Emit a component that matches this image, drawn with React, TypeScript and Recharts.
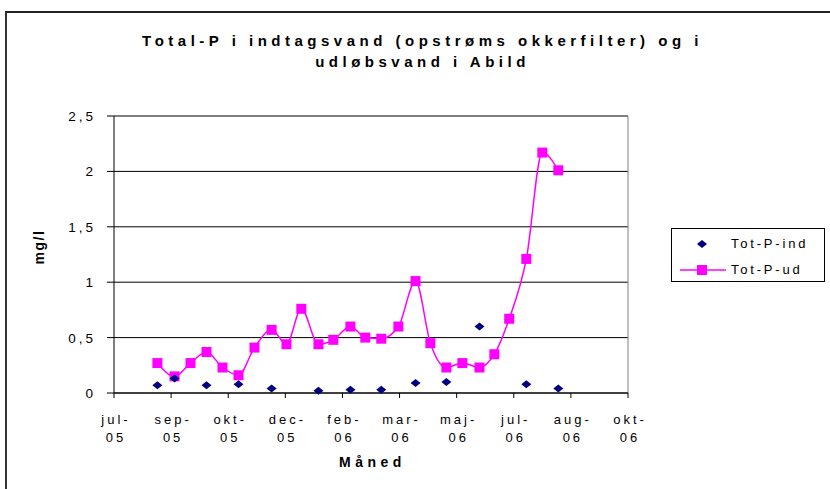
import { ComposedChart, Line, Scatter, XAxis, YAxis, CartesianGrid, ReferenceLine } from 'recharts';

const START = Date.UTC(2005, 6, 17); // first tick of the date axis (jul-05)

// Tot-P-ud (udløbsvand), mg/l
const udDates = [
  '2005-08-24', '2005-09-08', '2005-09-22', '2005-10-06', '2005-10-20', '2005-11-03',
  '2005-11-17', '2005-12-02', '2005-12-15', '2005-12-28', '2006-01-12', '2006-01-25',
  '2006-02-09', '2006-02-22', '2006-03-08', '2006-03-23', '2006-04-07', '2006-04-20',
  '2006-05-04', '2006-05-18', '2006-06-02', '2006-06-15', '2006-06-28', '2006-07-13',
  '2006-07-27', '2006-08-10',
];
const udValues = [
  0.27, 0.15, 0.27, 0.37, 0.23, 0.16, 0.41, 0.57, 0.44, 0.76, 0.44, 0.48,
  0.6, 0.5, 0.49, 0.6, 1.01, 0.45, 0.23, 0.27, 0.23, 0.35, 0.67, 1.21,
  2.17, 2.01,
];

// Tot-P-ind (indtagsvand), mg/l
const indDates = [
  '2005-08-24', '2005-09-08', '2005-10-06', '2005-11-03', '2005-12-02', '2006-01-12',
  '2006-02-09', '2006-03-08', '2006-04-07', '2006-05-04', '2006-06-02', '2006-07-13',
  '2006-08-10',
];
const indValues = [0.07, 0.13, 0.07, 0.08, 0.04, 0.02, 0.03, 0.03, 0.09, 0.1, 0.6, 0.08, 0.04];

const xTickDays = [0, 50, 100, 150, 200, 250, 300, 350, 400, 450];
const xTickLabels = ['jul-05', 'sep-05', 'okt-05', 'dec-05', 'feb-06', 'mar-06', 'maj-06', 'jul-06', 'aug-06', 'okt-06'];
const yTicks = [0, 0.5, 1, 1.5, 2, 2.5];

const FONT = "'Liberation Sans', Arial, sans-serif";

const dayOf = (iso: string) => Math.round((Date.parse(iso) - START) / 86400000);

const udData = udDates.map((d, i) => ({ day: dayOf(d), ud: udValues[i] }));
const indData = indDates.map((d, i) => ({ day: dayOf(d), ind: indValues[i] }));

function XTick({ x, y, index }: any) {
  const [month, year] = xTickLabels[index].split('-');
  return (
    <text x={x + 2} y={y} textAnchor="middle" fontFamily={FONT} fontSize={13} letterSpacing={3} fill="#000">
      <tspan x={x + 2} dy={24}>{month}-</tspan>
      <tspan x={x + 2} dy={18}>{year}</tspan>
    </text>
  );
}

function YTick({ x, y, payload }: any) {
  return (
    <text x={x - 9} y={y + 5} textAnchor="end" fontFamily={FONT} fontSize={13.5} letterSpacing={3} fill="#000">
      {String(payload.value).replace('.', ',')}
    </text>
  );
}

function Square({ cx, cy, payload }: any) {
  if (payload.ud == null) return null;
  return <rect x={cx - 5} y={cy - 5} width={10} height={10} fill="#FF00FF" />;
}

function Diamond({ cx, cy }: any) {
  return <polygon points={`${cx - 5},${cy} ${cx},${cy - 4} ${cx + 5},${cy} ${cx},${cy + 4}`} fill="#000080" />;
}

export default function App() {
  return (
    <div style={{ position: 'absolute', left: 0, top: 0, width: 830, height: 489, overflow: 'hidden', background: '#fff', fontFamily: FONT }}>
      {/* chart frame */}
      <div style={{ position: 'absolute', left: 5, top: 11, width: 900, height: 600, borderTop: '2px solid #222', borderLeft: '2px solid #333' }} />

      <div style={{ position: 'absolute', left: 0, width: 845, top: 30, textAlign: 'center', fontWeight: 'bold', fontSize: 15, letterSpacing: 4.5, lineHeight: '21px' }}>
        Total-P i indtagsvand (opstrøms okkerfilter) og i<br />udløbsvand i Abild
      </div>

      <ComposedChart
        width={830}
        height={489}
        data={udData}
        margin={{ top: 116, right: 202, bottom: 36, left: 0 }}
        style={{ position: 'absolute', left: 0, top: 0 }}
      >
        <CartesianGrid vertical={false} stroke="#000" />
        <XAxis
          dataKey="day"
          type="number"
          domain={[0, 450]}
          ticks={xTickDays}
          height={60}
          tickSize={5}
          stroke="#000"
          tick={<XTick />}
          interval={0}
        />
        <YAxis
          type="number"
          domain={[0, 2.5]}
          ticks={yTicks}
          width={114}
          tickSize={7}
          stroke="#000"
          tick={<YTick />}
          interval={0}
        />
        <ReferenceLine y={2.5} stroke="#808080" />
        <ReferenceLine x={450} stroke="#808080" />
        <Line
          dataKey="ud"
          type="monotone"
          stroke="#FF00FF"
          strokeWidth={1.5}
          dot={<Square />}
          activeDot={false}
          isAnimationActive={false}
        />
        <Scatter data={indData} dataKey="ind" shape={<Diamond />} isAnimationActive={false} />
      </ComposedChart>

      <div style={{ position: 'absolute', left: 39, top: 247, transform: 'translate(-50%, -50%) rotate(-90deg)', fontWeight: 'bold', fontSize: 14, letterSpacing: 1.5 }}>
        mg/l
      </div>
      <div style={{ position: 'absolute', left: 300, width: 145, top: 454, textAlign: 'center', fontWeight: 'bold', fontSize: 14, letterSpacing: 4.5 }}>
        Måned
      </div>

      {/* legend */}
      <div style={{ position: 'absolute', left: 671, top: 228, width: 152, height: 52, border: '1px solid #000', fontSize: 13, letterSpacing: 2.8 }}>
        <svg width={60} height={52} style={{ position: 'absolute', left: 0, top: 0 }}>
          <polygon points="25,15 30,11 35,15 30,19" fill="#000080" />
          <line x1={8} x2={54} y1={41} y2={41} stroke="#FF00FF" strokeWidth={1.5} />
          <rect x={25} y={36} width={10} height={10} fill="#FF00FF" />
        </svg>
        <div style={{ position: 'absolute', left: 59, top: 7 }}>Tot-P-ind</div>
        <div style={{ position: 'absolute', left: 59, top: 33 }}>Tot-P-ud</div>
      </div>
    </div>
  );
}
